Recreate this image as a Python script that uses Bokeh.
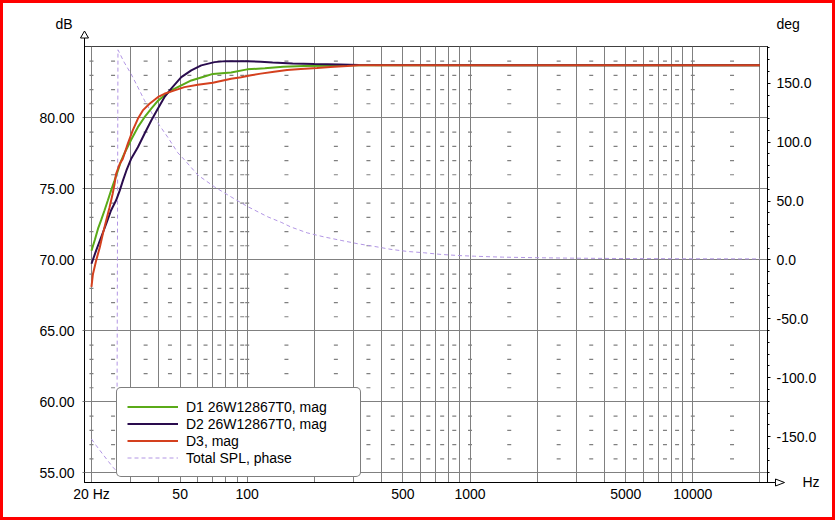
import math
from bokeh.plotting import figure
from bokeh.layouts import column
from bokeh.models import (Range1d, LinearAxis, FixedTicker, NumeralTickFormatter,
                          Legend, LegendItem)
from bokeh.embed import file_html
from bokeh.resources import INLINE
from bokeh.core.properties import value

# ---------------- data ----------------
d1_hz = [20, 20.7, 21.4, 22.1, 22.9, 23.7, 24.5, 25.4, 26.3, 27.2, 28.1, 30.1, 32.3, 34.6, 37.1,
         39.7, 42.5, 45.6, 50.6, 56.1, 64.3, 70.1, 84.7, 100, 120, 145, 180, 230, 300, 20000]
d1_db = [70.65, 71.4, 72.2, 72.8, 73.5, 74.2, 74.9, 75.6, 76.3, 77.0, 77.5, 78.45, 79.35, 80.05, 80.65,
         81.2, 81.58, 81.94, 82.29, 82.64, 82.92, 83.1, 83.2, 83.42, 83.5, 83.6, 83.65, 83.68, 83.71, 83.71]

d2_hz = [20, 21.0, 22.1, 23.3, 24.5, 25.8, 26.8, 27.7, 28.7, 30.1, 32.3, 34.6, 37.1, 39.7, 42.5,
         45.6, 50.6, 56.1, 62.2, 71.3, 80, 100, 115, 130, 160, 200, 260, 318, 20000]
d2_db = [69.73, 70.67, 71.6, 72.55, 73.5, 74.2, 74.9, 75.6, 76.3, 77.1, 77.94, 78.89, 79.82, 80.65, 81.46,
         82.06, 82.87, 83.35, 83.7, 83.93, 84.0, 84.0, 83.95, 83.9, 83.84, 83.8, 83.76, 83.72, 83.71]

d3_hz = [20, 20.3, 21.0, 21.8, 22.5, 23.3, 24.1, 24.9, 25.4, 25.8, 26.8, 27.6, 28.1, 29.1, 30.64,
         32.3, 34.0, 36.44, 39.7, 42.5, 47.2, 52.3, 60.0, 70.1, 84.7, 94, 104, 115, 132, 151,
         174, 206, 236, 281, 317, 20000]
d3_db = [68.1, 69.0, 69.97, 70.9, 71.85, 72.8, 73.7, 74.66, 75.37, 76.07, 76.77, 77.1, 77.45, 78.18, 79.12,
         79.94, 80.53, 81.0, 81.46, 81.7, 81.94, 82.17, 82.34, 82.48, 82.76, 82.87, 83.0, 83.12, 83.25, 83.37,
         83.44, 83.51, 83.58, 83.65, 83.71, 83.71]

phase_hz = [20, 21, 22.3, 23.7, 25, 26.0, 26.3, 28, 30.1, 32.3, 34.6, 37.1, 40.4, 44.0, 48.8, 52,
            60.1, 71.4, 84.7, 100, 124, 142, 157, 186, 222, 264, 313, 372, 442, 525, 623, 741,
            880, 1045, 1240, 1400, 2000, 3000, 5000, 10000, 20000]
phase_deg = [-152, -157.5, -164, -170.5, -176, -179.5, 178.4, 168, 158, 146.7, 135.4, 125.5, 114.2,
             104.2, 91, 85.5, 72, 62, 53.5, 45.5, 36.5, 32, 28, 23, 19.5, 16.6, 13.8, 11.5, 9, 7.2,
             6.1, 4.7, 3.8, 3.2, 2.7, 2.4, 1.9, 1.5, 1.2, 1.0, 0.9]

series_names = ["D1 26W12867T0, mag", "D2 26W12867T0, mag", "D3, mag", "Total SPL, phase"]
unit_labels = ["dB", "deg", "Hz"]

x_label_ticks = [20, 50, 100, 500, 1000, 5000, 10000]
x_grid_ticks = [20, 30, 40, 50, 60, 70, 80, 90, 100, 200, 300, 400, 500, 600, 700, 800, 900,
                1000, 2000, 3000, 4000, 5000, 6000, 7000, 8000, 9000, 10000, 20000]
x_dash_hz = [20, 25, 35, 45, 55, 65, 75, 85, 95, 100, 150, 250, 350, 450, 550, 650, 750, 850,
             1000, 1500, 2500, 3500, 4500, 5500, 6500, 7500, 8500, 10000, 15000]
db_ticks = [55, 60, 65, 70, 75, 80]
db_grid = [55, 60, 65, 70, 75, 80, 85]
db_minor = [v for v in range(56, 85) if v % 5 != 0]
deg_ticks = [-150, -100, -50, 0, 50, 100, 150]
deg_minor = list(range(-180, 181, 10))

# ---------------- layout ----------------
PAGE_W, PAGE_H, BORDER = 835, 520, 3
W, H = PAGE_W - 2 * BORDER, PAGE_H - 2 * BORDER
X0, X1 = 18.61, 21640.0
Y0, Y1 = 54.33, 85.03
D0, D1 = -188.9, 181.2
FL, FR, FT, FB = 84, 767, 46, 482   # frame edges in page pixels


def fx(px):
    l0, l1 = math.log10(X0), math.log10(X1)
    return 10 ** (l0 + (px - FL) / (FR - FL) * (l1 - l0))


def fy(py):
    return Y1 - (py - FT) / (FB - FT) * (Y1 - Y0)


FONT = "Liberation Sans"
GRID = "#808080"

p = figure(width=W, height=H, x_axis_type="log",
           x_range=Range1d(X0, X1), y_range=Range1d(Y0, Y1),
           output_backend="svg", toolbar_location=None,
           min_border_left=FL - BORDER, min_border_right=PAGE_W - BORDER - FR,
           min_border_top=FT - BORDER, min_border_bottom=PAGE_H - BORDER - FB,
           background_fill_color="white", border_fill_color="white",
           outline_line_color="black", outline_line_width=1)
p.title.visible = False

# x axis
xa = p.xaxis[0]
xa.ticker = FixedTicker(ticks=x_label_ticks, minor_ticks=[])
xa.formatter = NumeralTickFormatter(format="0")
xa.major_label_overrides = {20: "20 Hz"}
xa.major_tick_line_color = None
xa.minor_tick_line_color = None
xa.major_tick_out = 0
xa.major_label_standoff = 3
xa.axis_line_color = "black"
xa.major_label_text_font = FONT
xa.major_label_text_font_size = "14px"
xa.major_label_text_color = "black"

# left axis
ya = p.yaxis[0]
ya.ticker = FixedTicker(ticks=db_ticks, minor_ticks=[])
ya.formatter = NumeralTickFormatter(format="0.00")
ya.major_tick_out = 2
ya.major_tick_in = 0
ya.major_tick_line_color = GRID
ya.minor_tick_line_color = None
ya.major_label_standoff = 8
ya.axis_line_color = "black"
ya.major_label_text_font = FONT
ya.major_label_text_font_size = "14px"
ya.major_label_text_color = "black"

# right axis (phase)
p.extra_y_ranges = {"deg": Range1d(D0, D1)}
ra = LinearAxis(y_range_name="deg",
                ticker=FixedTicker(ticks=deg_ticks, minor_ticks=deg_minor),
                formatter=NumeralTickFormatter(format="0.0"))
ra.major_tick_out = 3
ra.major_tick_in = 0
ra.minor_tick_out = 2
ra.minor_tick_in = 0
ra.major_tick_line_color = "black"
ra.minor_tick_line_color = "black"
ra.axis_line_color = "black"
ra.major_label_standoff = 6
ra.major_label_text_font = FONT
ra.major_label_text_font_size = "14px"
ra.major_label_text_color = "black"
p.add_layout(ra, "right")

# grids
p.xgrid[0].ticker = FixedTicker(ticks=x_grid_ticks)
p.xgrid[0].grid_line_color = GRID
p.xgrid[0].grid_line_width = 1
p.ygrid[0].ticker = FixedTicker(ticks=db_grid)
p.ygrid[0].grid_line_color = GRID
p.ygrid[0].grid_line_width = 1

# small dash grid marks
dx, dy = [], []
for yv in db_minor:
    for xv in x_dash_hz:
        dx.append(xv)
        dy.append(yv)
p.scatter(dx, dy, marker="dash", size=4, line_color=GRID, line_width=1.2)

# curves
r_ph = p.line(phase_hz, phase_deg, y_range_name="deg", line_color="#b296e4",
              line_width=1, line_dash="4 3")
r_d1 = p.line(d1_hz, d1_db, line_color="#5aaa18", line_width=2)
r_d2 = p.line(d2_hz, d2_db, line_color="#2a0c4e", line_width=2)
r_d3 = p.line(d3_hz, d3_db, line_color="#d4401e", line_width=2)

# legend
LEG_LEFT, LEG_TOP, LEG_PAD, ROW_H = 116, 389, 10, 17
legA = Legend(items=[LegendItem(label=value(series_names[0]), renderers=[r_d1]),
                     LegendItem(label=value(series_names[1]), renderers=[r_d2]),
                     LegendItem(label=value(series_names[2]), renderers=[r_d3]),
                     LegendItem(label=value(series_names[3]), renderers=[r_ph])],
              location=(LEG_LEFT - FL, FB - (LEG_TOP + 2 * LEG_PAD + 4 * ROW_H)),
              orientation="vertical", margin=0,
              padding=LEG_PAD, spacing=0, glyph_width=51, glyph_height=ROW_H,
              label_height=ROW_H, label_width=164, label_standoff=8,
              border_line_color="black", border_line_width=1,
              background_fill_color="white", background_fill_alpha=1.0,
              label_text_font=FONT, label_text_font_size="14px",
              label_text_color="black")
if "border_radius" in Legend.properties():
    legA.border_radius = 5
p.add_layout(legA)

# check-box column of the legend (drawn over the legend)
p.quad(left=[fx(117.3)], right=[fx(132.3)], top=[fy(394.3)], bottom=[fy(474.3)],
       fill_color="white", line_color="black", line_width=1, line_dash="1 1", level="overlay")
cb_y = [fy(LEG_TOP + LEG_PAD + ROW_H / 2 + k * ROW_H) for k in range(len(series_names))]
p.scatter([fx(124.2)] * len(series_names), cb_y, marker="square", size=10,
          fill_color="white", line_color="black", line_width=1, level="overlay")

# axis arrows (hollow heads) and unit labels, outside the frame
p.line([X0, X0, fx(80), X0, fx(88), X0],
       [fy(264), fy(37.5), fy(37.5), fy(30.5), fy(37.5), fy(37.5)],
       line_color="black", line_width=1, level="overlay")
p.line([fx(425), fx(775), fx(775), fx(784), fx(775), fx(775)],
       [Y0, Y0, fy(478.5), Y0, fy(485.5), Y0],
       line_color="black", line_width=1, level="overlay")
p.text(x=[fx(55), fx(776), fx(802)], y=[fy(23), fy(23), fy(481)], text=unit_labels,
       text_font=value(FONT), text_font_size=value("14px"), text_color="black",
       text_align="left", text_baseline="middle", level="overlay")

page = column(p, styles={"border": f"{BORDER}px solid #ff0000"})
open("out.html", "w").write(file_html(page, INLINE))
